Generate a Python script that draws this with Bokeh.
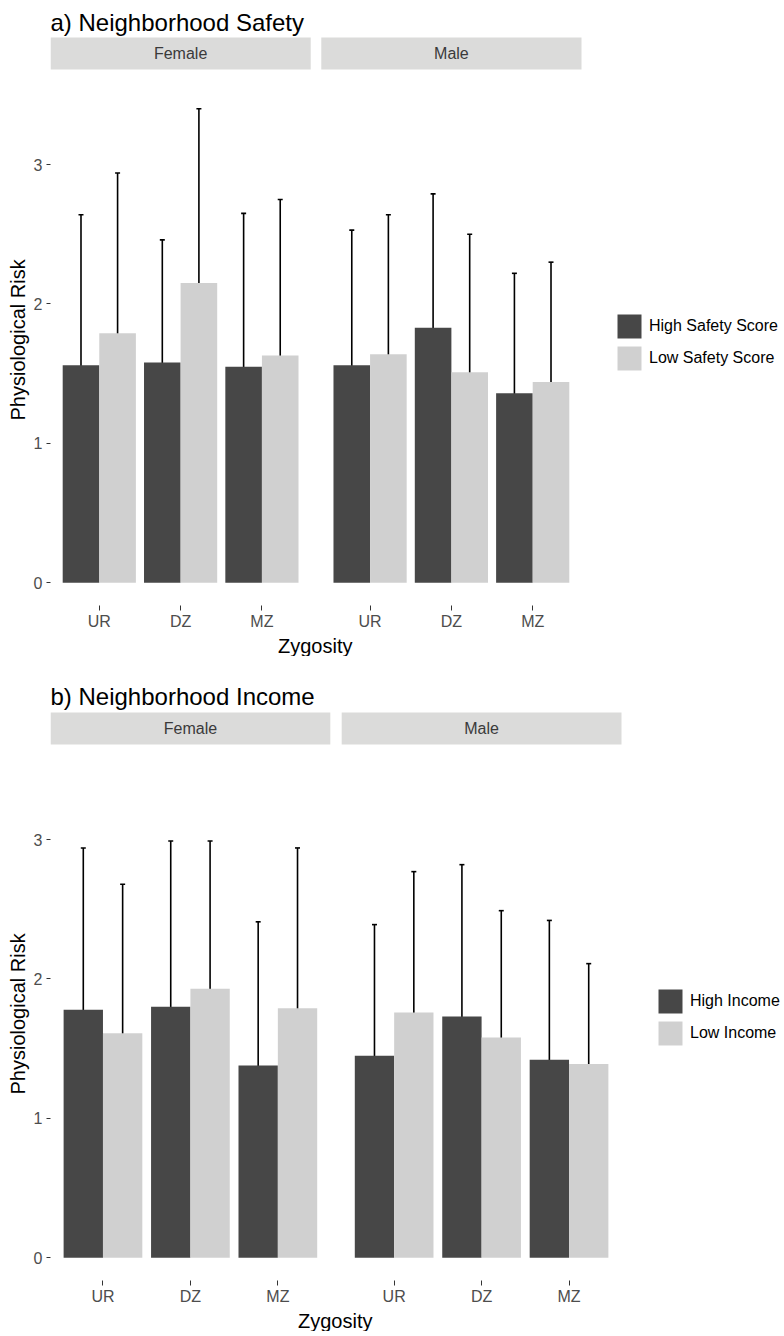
from bokeh.plotting import figure
from bokeh.models import (Range1d, FixedTicker, Legend, LegendItem, Whisker, TeeHead,
                          ColumnDataSource, Title)
from bokeh.layouts import column
from bokeh.core.properties import value
from bokeh.embed import file_html
from bokeh.resources import INLINE

# ---------------- data ----------------
zygosity = ["UR", "DZ", "MZ"]
sexes = ["Female", "Male"]

# order: Female UR, DZ, MZ, Male UR, DZ, MZ
safety_high = [1.56, 1.58, 1.55, 1.56, 1.83, 1.36]
safety_high_lo = [0.48, 0.70, 0.45, 0.59, 0.87, 0.50]
safety_high_hi = [2.64, 2.46, 2.65, 2.53, 2.79, 2.22]
safety_low = [1.79, 2.15, 1.63, 1.64, 1.51, 1.44]
safety_low_lo = [0.64, 0.90, 0.51, 0.64, 0.52, 0.58]
safety_low_hi = [2.94, 3.40, 2.75, 2.64, 2.50, 2.30]
safety_labels = ["High Safety Score", "Low Safety Score"]

income_high = [1.78, 1.80, 1.38, 1.45, 1.73, 1.42]
income_high_lo = [0.62, 0.61, 0.35, 0.51, 0.64, 0.42]
income_high_hi = [2.94, 2.99, 2.41, 2.39, 2.82, 2.42]
income_low = [1.61, 1.93, 1.79, 1.76, 1.58, 1.39]
income_low_lo = [0.54, 0.87, 0.64, 0.75, 0.67, 0.67]
income_low_hi = [2.68, 2.99, 2.94, 2.77, 2.49, 2.11]
income_labels = ["High Income", "Low Income"]

y_ticks = [0, 1, 2, 3]

# ---------------- style ----------------
FONT = "Liberation Sans"
DARK = "#474747"
LIGHT = "#D0D0D0"
STRIP = "#DBDBDA"
PX_PER_UNIT = 139.4
Y0 = -0.163
X0 = 0.4
PANEL_W = 3.2
GAP = 0.13
SEX_OFFSET = PANEL_W + GAP
BAR_W = 0.45
LEFT_BORDER = 50
FRAME_W = 732


def make_panel(title, high, high_lo, high_hi, low, low_lo, low_hi, labels,
               panel_px, frame_h, title_px, legend_vx, legend_vy, ytitle_offset):
    px_per_x = panel_px / (2 * PANEL_W + GAP)
    y1 = Y0 + frame_h / PX_PER_UNIT
    x1 = X0 + FRAME_W / px_per_x
    p = figure(frame_width=FRAME_W, frame_height=frame_h,
               x_range=Range1d(X0, x1), y_range=Range1d(Y0, y1),
               output_backend="svg", toolbar_location=None,
               min_border_left=LEFT_BORDER, min_border_right=0,
               min_border_top=0, min_border_bottom=0)
    p.outline_line_color = None
    p.xgrid.visible = False
    p.ygrid.visible = False

    def y_at(px):
        return Y0 + px / PX_PER_UNIT

    base = [i + 1 + s * SEX_OFFSET for s in range(len(sexes)) for i in range(len(zygosity))]
    xh = [b - BAR_W / 2 for b in base]
    xl = [b + BAR_W / 2 for b in base]

    src_h = ColumnDataSource(dict(x=xh, top=high, lo=high_lo, hi=high_hi))
    src_l = ColumnDataSource(dict(x=xl, top=low, lo=low_lo, hi=low_hi))

    rh = p.vbar(x="x", top="top", bottom=0, width=BAR_W, source=src_h,
                fill_color=DARK, line_color=None)
    rl = p.vbar(x="x", top="top", bottom=0, width=BAR_W, source=src_l,
                fill_color=LIGHT, line_color=None)

    for src in (src_h, src_l):
        w = Whisker(source=src, base="x", upper="hi", lower="lo",
                    line_color="black", line_width=1.6,
                    upper_head=TeeHead(size=5, line_color="black", line_width=1.6),
                    lower_head=TeeHead(size=5, line_color="black", line_width=1.6))
        p.add_layout(w)

    # facet strips
    lefts = [X0 + s * SEX_OFFSET for s in range(len(sexes))]
    rights = [l + PANEL_W for l in lefts]
    p.quad(left=lefts, right=rights, bottom=[y_at(536)] * 2, top=[y_at(568)] * 2,
           fill_color=STRIP, line_color=None)
    p.text(x=[(l + r) / 2 for l, r in zip(lefts, rights)], y=[y_at(552)] * 2, text=sexes,
           text_font=value(FONT), text_font_size="16px", text_color="#3A3A3A",
           text_align="center", text_baseline="middle")

    # title
    p.text(x=[X0], y=[y_at(title_px)], text=[title], text_font=value(FONT),
           text_font_size="24px", text_color="black", text_align="left",
           text_baseline="alphabetic")

    # axes
    p.yaxis.ticker = FixedTicker(ticks=y_ticks)
    p.yaxis.axis_line_color = None
    p.yaxis.major_tick_line_color = "#333333"
    p.yaxis.major_tick_out = 4
    p.yaxis.major_tick_in = 0
    p.yaxis.minor_tick_line_color = None
    p.yaxis.major_label_text_font = FONT
    p.yaxis.major_label_text_font_size = "16px"
    p.yaxis.major_label_text_color = "#4D4D4D"
    p.yaxis.major_label_standoff = 4

    p.xaxis.ticker = FixedTicker(ticks=base)
    p.xaxis.major_label_overrides = {b: zygosity[i % 3] for i, b in enumerate(base)}
    p.xaxis.axis_line_color = None
    p.xaxis.major_tick_line_color = "#333333"
    p.xaxis.major_tick_out = 5
    p.xaxis.major_tick_in = 0
    p.xaxis.minor_tick_line_color = None
    p.xaxis.major_label_text_font = FONT
    p.xaxis.major_label_text_font_size = "16px"
    p.xaxis.major_label_text_color = "#4D4D4D"
    p.xaxis.major_label_standoff = 2

    # x title centred under both facets
    p.add_layout(Title(text="Zygosity", align="left", offset=panel_px / 2 - 38,
                       text_font=FONT, text_font_size="20px",
                       text_font_style="normal", text_color="black", standoff=0,
                       text_line_height=0.9), "below")
    p.add_layout(Title(text="Physiological Risk", align="left", offset=ytitle_offset,
                       text_font=FONT, text_font_size="20px",
                       text_font_style="normal", text_color="black", standoff=4), "left")

    legend = Legend(items=[LegendItem(label=labels[0], renderers=[rh]),
                           LegendItem(label=labels[1], renderers=[rl])],
                    location=(legend_vx, legend_vy), orientation="vertical",
                    glyph_width=30, glyph_height=30, label_height=30,
                    spacing=2, padding=0, margin=0, border_line_color=None,
                    background_fill_alpha=0, label_text_font=FONT,
                    label_text_font_size="16px", label_text_color="black",
                    label_standoff=5)
    p.add_layout(legend)
    return p


pa = make_panel("a) Neighborhood Safety", safety_high, safety_high_lo, safety_high_hi,
                safety_low, safety_low_lo, safety_low_hi, safety_labels,
                panel_px=531, frame_h=605, title_px=583,
                legend_vx=564, legend_vy=232, ytitle_offset=185)
pb = make_panel("b) Neighborhood Income", income_high, income_high_lo, income_high_hi,
                income_low, income_low_lo, income_low_hi, income_labels,
                panel_px=571, frame_h=624, title_px=584,
                legend_vx=605, legend_vy=232, ytitle_offset=186)

layout = column(pa, pb)
open("out.html", "w").write(file_html(layout, INLINE))
